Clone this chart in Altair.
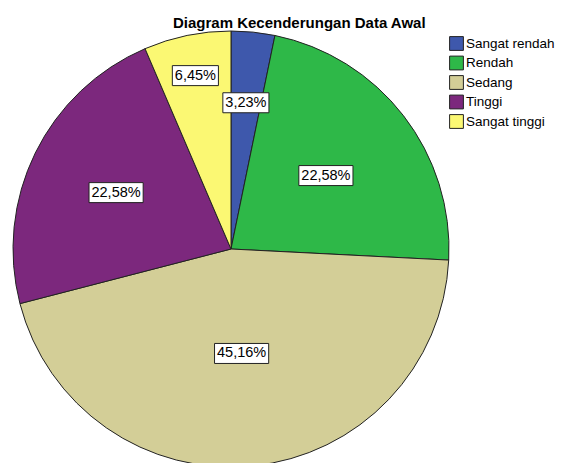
import altair as alt
import pandas as pd

# Data
categories = ["Sangat rendah", "Rendah", "Sedang", "Tinggi", "Sangat tinggi"]
percentages = [3.23, 22.58, 45.16, 22.58, 6.45]
labels = ["3,23%", "22,58%", "45,16%", "22,58%", "6,45%"]
colors = ["#3E58AC", "#2EB848", "#D3CE97", "#7C287D", "#FBF873"]

# Layout (label distance from pie centre, px)
label_radius = [147, 120, 105, 128, 177]

CX, CY, R = 223, 209, 218
FONT = "Liberation Sans"

df = pd.DataFrame({
    "category": categories,
    "pct": percentages,
    "label": labels,
    "order": list(range(len(categories))),
    "lr": label_radius,
})

base = alt.Chart(df)

pie = base.mark_arc(outerRadius=R, stroke="#222222", strokeWidth=1).encode(
    theta=alt.Theta("pct:Q", stack=True),
    color=alt.Color(
        "category:N",
        scale=alt.Scale(domain=categories, range=colors),
        sort=categories,
        legend=alt.Legend(
            title=None,
            orient="none",
            legendX=441,
            legendY=-4,
            padding=0,
            symbolType="square",
            symbolSize=190,
            symbolStrokeColor="#222222",
            symbolStrokeWidth=1,
            symbolOpacity=1,
            labelFont=FONT,
            labelFontSize=13.5,
            labelColor="black",
            labelOffset=2,
            rowPadding=0.5,
            labelLimit=200,
        ),
    ),
    order=alt.Order("order:Q"),
    x=alt.value(CX),
    y=alt.value(CY),
)

lab = (
    base.transform_joinaggregate(total="sum(pct)")
    .transform_window(cum="sum(pct)", sort=[alt.SortField("order")], frame=[None, 0])
    .transform_calculate(
        mid="(datum.cum - datum.pct/2)/datum.total*2*PI",
        lx=f"{CX} + datum.lr*sin(datum.mid)",
        ly=f"{CY} - datum.lr*cos(datum.mid)",
        bw="(length(datum.label)-2)*8.06+21.9",
    )
    .transform_calculate(
        x1="datum.lx - datum.bw/2",
        x2="datum.lx + datum.bw/2",
        y1="datum.ly - 10",
        y2="datum.ly + 10",
    )
)

boxes = lab.mark_rect(fill="white", stroke="#222222", strokeWidth=1).encode(
    x=alt.X("x1:Q", scale=None, axis=None),
    x2="x2:Q",
    y=alt.Y("y1:Q", scale=None, axis=None),
    y2="y2:Q",
)

texts = lab.mark_text(font=FONT, fontSize=14.5, color="black", baseline="middle", align="center").encode(
    x=alt.X("lx:Q", scale=None, axis=None),
    y=alt.Y("ly:Q", scale=None, axis=None),
    text="label:N",
)

chart = (
    alt.layer(pie, boxes, texts)
    .properties(
        width=548,
        height=423,
        autosize="none",
        padding={"left": 0, "top": 32, "right": 0, "bottom": 0},
        title=alt.TitleParams(
            text="Diagram Kecenderungan Data Awal",
            font=FONT,
            fontSize=15,
            fontWeight="bold",
            color="black",
            anchor="start",
            dx=165,
            offset=-2,
        ),
    )
    .configure_view(stroke=None)
)

chart.save("out.html", embed_options={"renderer": "svg", "actions": False})
